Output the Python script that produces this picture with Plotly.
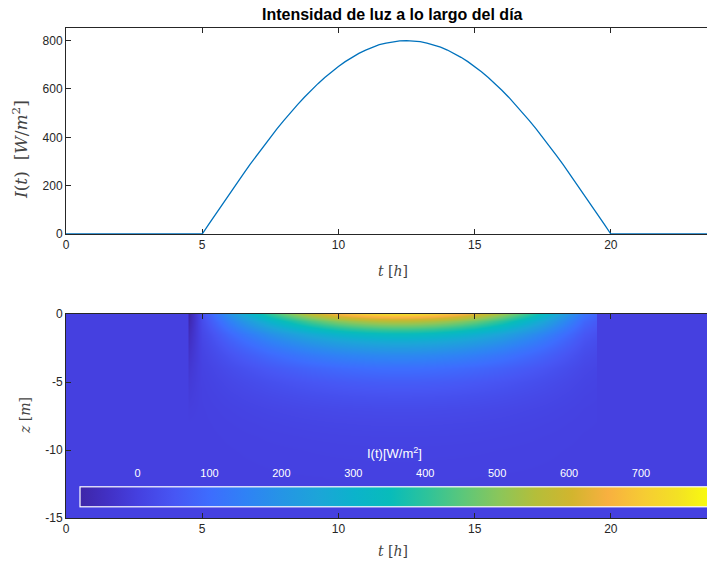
import plotly.graph_objects as go

# ---------------- data ----------------
# top panel: light intensity I(t) [W/m^2]
t_line = [0, 1, 2, 3, 4, 5, 5.25, 5.5, 5.75, 6, 6.25, 6.5, 6.75, 7, 7.25, 7.5, 7.75,
          8, 8.25, 8.5, 8.75, 9, 9.25, 9.5, 9.75, 10, 10.25, 10.5, 10.75, 11, 11.25,
          11.5, 11.75, 12, 12.25, 12.5, 12.75, 13, 13.25, 13.5, 13.75, 14, 14.25, 14.5,
          14.75, 15, 15.25, 15.5, 15.75, 16, 16.25, 16.5, 16.75, 17, 17.25, 17.5, 17.75,
          18, 18.25, 18.5, 18.75, 19, 19.25, 19.5, 19.75, 20, 21, 22, 23, 24]
I_line = [0, 0, 0, 0, 0, 0, 42, 84, 125, 166, 207, 247, 287, 325, 363, 400, 436,
          470, 504, 535, 566, 595, 622, 647, 671, 693, 713, 731, 747, 761, 773,
          783, 790, 796, 799, 800, 799, 796, 790, 783, 773, 761, 747, 731,
          713, 693, 671, 647, 622, 595, 566, 535, 504, 470, 436, 400, 363,
          325, 287, 247, 207, 166, 125, 84, 42, 0, 0, 0, 0, 0]

# bottom panel: light field I(t, z)
heat_t = [0, 4.45, 4.5, 5, 5.5, 6, 6.5, 7, 7.5, 8, 8.5, 9, 9.5, 10, 10.5, 11, 11.5,
          12, 12.5, 13, 13.5, 14, 14.5, 15, 15.5, 16, 16.5, 17, 17.5, 18, 18.5, 19,
          19.45, 19.5, 24]
surface_I = [0, 0, None, 40, 125, 207, 287, 363, 436, 503, 566, 622, 671, 713, 747,
             773, 790, 799, 799, 790, 773, 747, 713, 671, 622, 566, 503, 436, 363, 287,
             207, 125, 90, 0, 0]
depth = [0, -0.5, -1, -1.5, -2, -2.5, -3, -4, -5, -6, -7, -8, -9, -10, -12, -15]
attenuation = [0.92, 0.70, 0.55, 0.43, 0.34, 0.27, 0.21, 0.13, 0.08, 0.05, 0.03,
               0.018, 0.011, 0.0067, 0.0025, 0.0006]
# dark numerical artefact at t = 4.5 h (values per depth)
artefact = [-80, -70, -60, -52, -45, -38, -32, -22, -14, -8, -3, 0, 0, 0, 0, 0]

x_ticks = [0, 5, 10, 15, 20]
y_ticks_top = [0, 200, 400, 600, 800]
z_ticks = [0, -5, -10, -15]
z_tick_text = ["0", "-5", "-10", "-15"]
cbar_ticks = [0, 100, 200, 300, 400, 500, 600, 700]
c_min, c_max = -80, 795

# build matrix
field = []
for i, a in enumerate(attenuation):
    row = []
    for s in surface_I:
        row.append(artefact[i] if s is None else s * a)
    field.append(row)

parula = [
    [0.000, "#3E26A8"], [0.050, "#4232C8"], [0.092, "#4540E0"], [0.150, "#4756F4"],
    [0.207, "#3D6DFE"], [0.264, "#2F82F5"], [0.322, "#2595E5"], [0.379, "#1CA5D8"],
    [0.437, "#0BB3CB"], [0.494, "#08BCBA"], [0.552, "#2EC39A"], [0.609, "#5CC77A"],
    [0.667, "#8BC65A"], [0.724, "#B4BE3A"], [0.782, "#D2B52E"], [0.839, "#F8B040"],
    [0.897, "#F6CC33"], [0.950, "#F3E124"], [1.000, "#F9FB0E"]]

W, H = 707, 567
L = 66
PW = W - L


def px(x):
    return (x - L) / PW


def py(y):
    return (H - y) / H


fig = go.Figure()
fig.add_trace(go.Scatter(x=t_line, y=I_line, mode="lines",
                         line=dict(color="#0072BD", width=1.3),
                         xaxis="x", yaxis="y", showlegend=False, hoverinfo="skip"))
fig.add_trace(go.Heatmap(x=heat_t, y=depth, z=field, zsmooth="best",
                         colorscale=parula, zmin=c_min, zmax=c_max,
                         xaxis="x2", yaxis="y2", hoverinfo="skip",
                         colorbar=dict(orientation="h", x=px(80), xanchor="left",
                                       y=py(507.5), yanchor="bottom",
                                       len=629, lenmode="pixels",
                                       thickness=20, thicknessmode="pixels",
                                       xpad=0, ypad=0,
                                       outlinecolor="white", outlinewidth=1.2,
                                       ticks="", showticklabels=False)))
# axis carrying the colour-bar tick marks / labels (drawn above the bar)
fig.add_trace(go.Scatter(x=[], y=[], xaxis="x3", yaxis="y3", showlegend=False,
                         hoverinfo="skip"))

axis_common = dict(showgrid=False, zeroline=False, showline=True,
                   linecolor="#262626", linewidth=1, ticks="inside", ticklen=5,
                   tickcolor="#262626", tickwidth=1,
                   tickfont=dict(size=12, color="#262626",
                                 family="Liberation Sans, Arial"))

fig.update_layout(
    width=W, height=H,
    margin=dict(l=L, r=0, t=0, b=0, autoexpand=False),
    paper_bgcolor="white", plot_bgcolor="rgba(0,0,0,0)",
    xaxis=dict(axis_common, domain=[0, 1], range=[0, 23.53], anchor="y",
               tickvals=x_ticks, layer="below traces", mirror="ticks"),
    yaxis=dict(axis_common, domain=[py(234), py(28.3)], range=[0, 851], anchor="x",
               tickvals=y_ticks_top, mirror=False),
    xaxis2=dict(axis_common, domain=[0, 1], range=[0, 23.53], anchor="y2",
                tickvals=x_ticks, mirror="ticks"),
    yaxis2=dict(axis_common, domain=[py(518), py(314)], range=[-15, 0], anchor="x2",
                tickvals=z_ticks, ticktext=z_tick_text, mirror=False),
    xaxis3=dict(domain=[px(80), 1], range=[c_min, 791.8], anchor="y3", side="top",
                showgrid=False, zeroline=False, showline=False, ticks="inside",
                ticklen=5, tickcolor="white", tickwidth=1, tickvals=cbar_ticks,
                ticklabelstandoff=7,
                tickfont=dict(size=11, color="white", family="Liberation Sans, Arial")),
    yaxis3=dict(domain=[py(507.5), py(486.7)], range=[0, 1], anchor="x3",
                visible=False),
)

serif = "DejaVu Serif, Liberation Serif, serif"
ann = [
    dict(text="<b>Intensidad de luz a lo largo del día</b>", x=px(392), y=py(14),
         font=dict(size=16, color="#000000", family="Liberation Sans, Arial")),
    dict(text="<i>t</i> [<i>h</i>]", x=px(393), y=py(271),
         font=dict(size=14, color="#444444", family=serif)),
    dict(text="<i>t</i> [<i>h</i>]", x=px(393), y=py(551),
         font=dict(size=14, color="#444444", family=serif)),
    dict(text="<i>I</i>(<i>t</i>)  [<i>W</i>/<i>m</i><sup>2</sup>]", x=px(20), y=py(150),
         textangle=-90, font=dict(size=17, color="#444444", family=serif)),
    dict(text="<i>z</i> [<i>m</i>]", x=px(25), y=py(416),
         textangle=-90, font=dict(size=14, color="#444444", family=serif)),
    dict(text="I(t)[W/m<sup>2</sup>]", x=px(394), y=py(453),
         font=dict(size=13, color="white", family="Liberation Sans, Arial")),
]
for a in ann:
    a.update(xref="paper", yref="paper", showarrow=False, xanchor="center",
             yanchor="middle")
fig.update_layout(annotations=ann)

fig.write_html("out.html", config={"displayModeBar": False},
               post_script="document.body.style.margin='0';"
                           "document.body.style.overflow='hidden';")
